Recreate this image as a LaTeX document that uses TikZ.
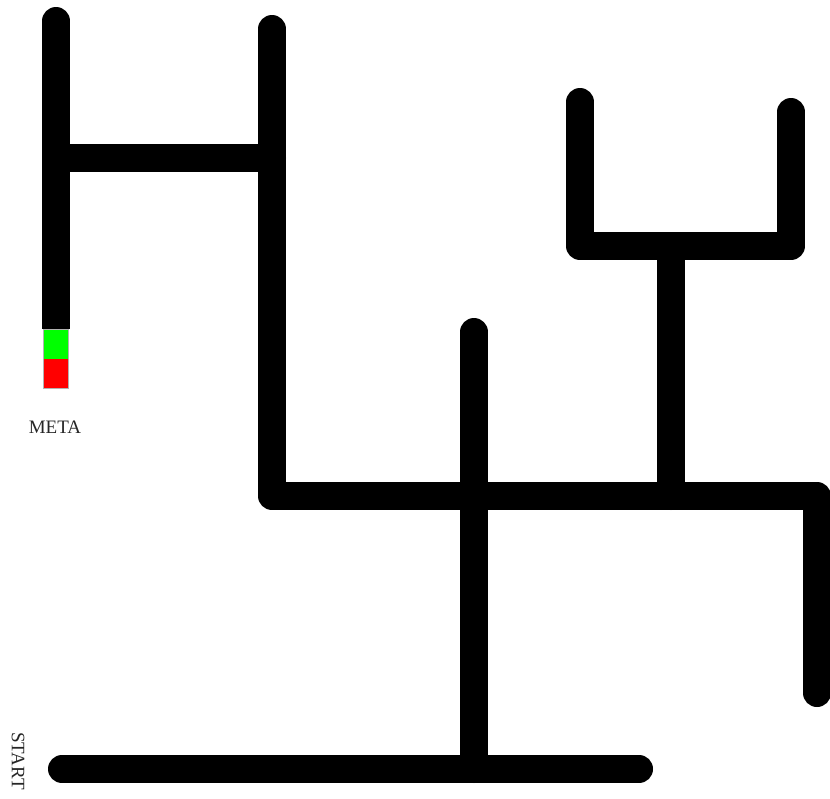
\documentclass[tikz,border=0pt]{standalone}
\usepackage{fontspec}
\setmainfont{Liberation Serif}
\usetikzlibrary{calc}
\begin{document}
\begin{tikzpicture}[x=1pt,y=-1pt,
  wall/.style={line width=28pt,line cap=round,line join=round,draw=black},
  flatwall/.style={line width=28pt,line cap=butt,draw=black},
  lbl/.style={font=\fontsize{19}{21}\selectfont,text=black!85,inner sep=0pt}]
\useasboundingbox (0,0) rectangle (830,798);
% coordinates
\coordinate (LT) at (56,21);
\coordinate (LB) at (56,329);
\coordinate (HL) at (56,158);
\coordinate (HR) at (272,158);
\coordinate (MT) at (272,29);
\coordinate (MB) at (272,496);
\coordinate (RC) at (817,496);
\coordinate (RB) at (817,693);
\coordinate (CT) at (474,332);
\coordinate (CB) at (474,769);
\coordinate (BL) at (62,769);
\coordinate (BR) at (639,769);
\coordinate (UB) at (671,496);
\coordinate (UT) at (671,246);
\coordinate (UL) at (580,102);
\coordinate (ULc) at (580,246);
\coordinate (URc) at (791,246);
\coordinate (UR) at (791,112);
% maze walls
\draw[flatwall] (LT) -- (LB);
\draw[wall] (LT) -- ($(LT)!0.2!(LB)$);
\draw[wall] (HL) -- (HR);
\draw[wall] (MT) -- (MB) -- (RC) -- (RB);
\draw[wall] (CT) -- (CB);
\draw[wall] (BL) -- (BR);
\draw[wall] (UB) -- (UT);
\draw[wall] (UL) -- (ULc) -- (URc) -- (UR);
% goal
\node[fill=red,draw=black!30,line width=0.6pt,minimum width=25pt,minimum height=59pt,inner sep=0pt,anchor=north] (goalb) at (56,329) {};
\node[fill=green,minimum width=24.4pt,minimum height=29pt,inner sep=0pt,anchor=north] (goal) at (56,329.3) {};
% labels
\node[lbl] (meta) at (55,427) {META};
\node[lbl,rotate=-90] (start) at (18,761) {START};
\end{tikzpicture}
\end{document}
